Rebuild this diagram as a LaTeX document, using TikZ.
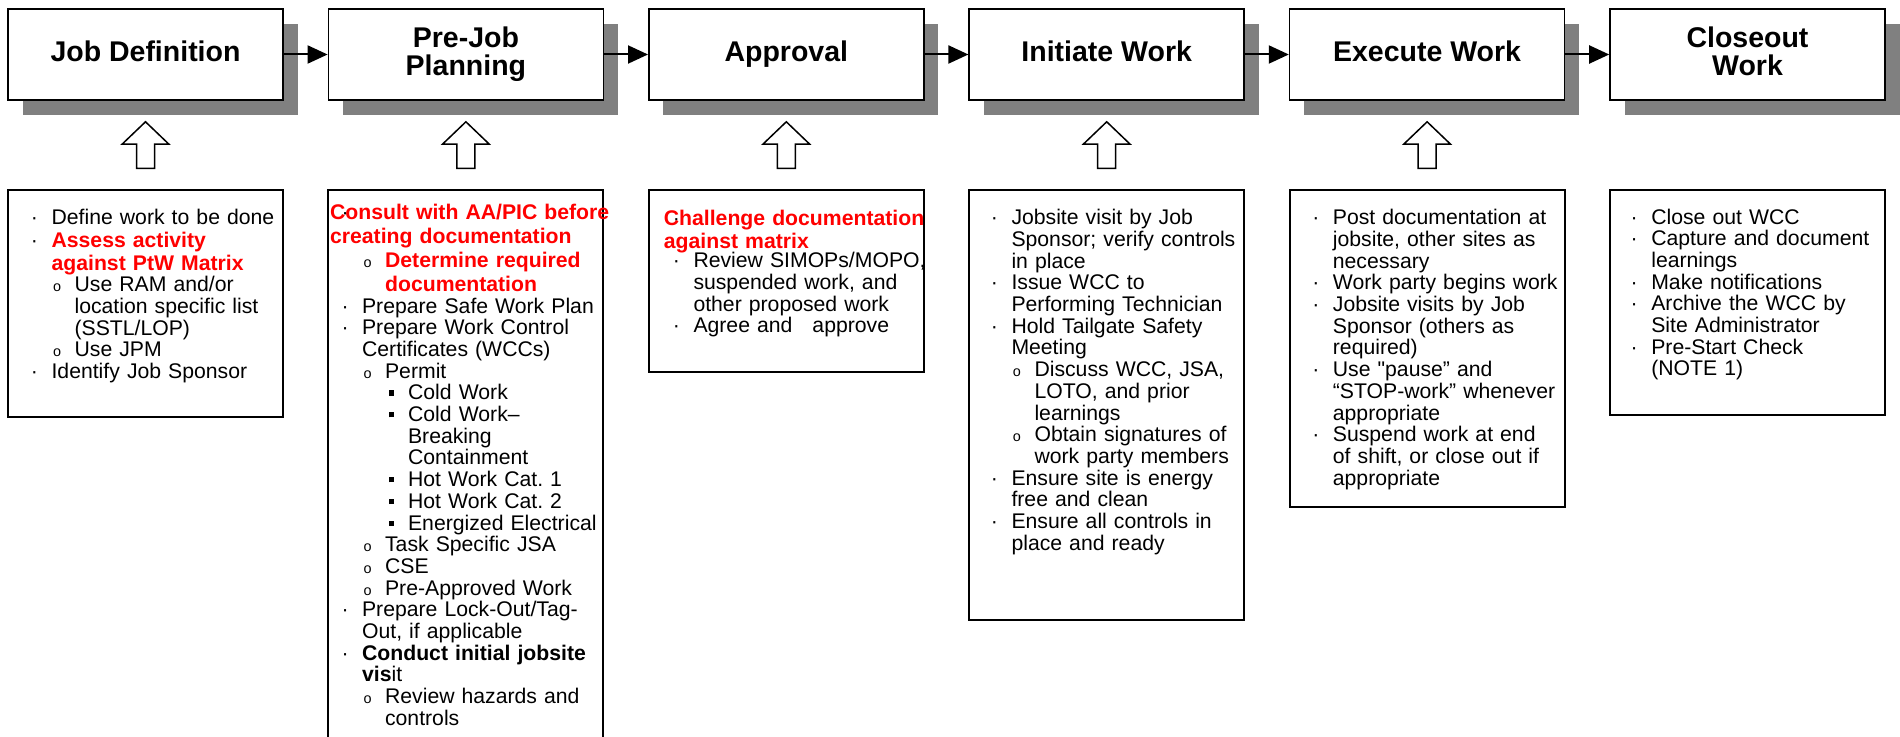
\documentclass[tikz,border=0pt]{standalone}
\usepackage{fontspec}
\setmainfont{Liberation Sans}[Ligatures=TeXOff]
\usepackage{tikz}
\usetikzlibrary{positioning,shadows,arrows.meta,calc}
\frenchspacing

\definecolor{shadowgray}{HTML}{808080}
\definecolor{alertred}{HTML}{FF0000}

% list helpers for the detail boxes
\newlength\lsh
\newcommand{\topstrut}{\rule{0pt}{10pt}}
\newcommand{\redbf}{\color{alertred}\bfseries}
\newcommand{\omark}{{\fontsize{7.2pt}{7.2pt}\selectfont o}}
\newcommand{\sqmark}{\rule[2.1pt]{2.6pt}{2.6pt}}
\newcommand{\lineitem}[4]{\par\hangindent=#2\hangafter=1\noindent\hbox to #2{\hskip#1\relax{\normalfont\color{black}#3}\hfil}#4}
\newcommand{\lone}[1]{\lineitem{\lsh}{\dimexpr\lsh+10.3pt\relax}{·}{#1}}
\newcommand{\ltwo}[1]{\lineitem{\dimexpr\lsh+11pt\relax}{\dimexpr\lsh+21.8pt\relax}{\omark}{#1}}
\newcommand{\lthree}[1]{\lineitem{\dimexpr\lsh+23.8pt\relax}{\dimexpr\lsh+33.3pt\relax}{\sqmark}{#1}}
\newcommand{\lhead}[2]{\par\hangindent=#1\hangafter=1\noindent\rlap{\hskip\lsh{\normalfont\color{black}·}}\hskip#1\relax#2}
\newcommand{\hollowarrow}[1]{\draw[hollow] ($(#1.south)+(0,21)$) -- ++(23.3,22.3) -- ++(-14.3,0) -- ++(0,24.3) -- ++(-18,0) -- ++(0,-24.3) -- ++(-14.3,0) -- cycle;}

\tikzset{
  stage/.style={draw, line width=0.8pt, fill=white, minimum width=137.5pt, minimum height=45.5pt,
    inner sep=2pt, align=center, text depth=3pt, font=\bfseries\fontsize{14.25pt}{14pt}\selectfont,
    drop shadow={shadow xshift=7.25pt, shadow yshift=-7.5pt, fill=shadowgray, opacity=1}},
  detailbox/.style={draw, line width=1pt, minimum width=137.5pt, minimum height=#1, inner sep=0pt, outer sep=0pt},
  detailtext/.style={anchor=north west, inner sep=0pt, text width=160pt, align=left,
    font=\fontsize{10.6pt}{10.85pt}\selectfont},
  flow/.style={-{Triangle[length=10pt,width=9pt]}, line width=1pt},
  hollow/.style={line width=0.75pt, fill=white, line join=miter}
}

\begin{document}
\begin{tikzpicture}[x=0.5pt, y=-0.5pt]
\path[use as bounding box, fill=white] (0,0) rectangle (1900,737);

% process steps
\node[stage] (jobdef) at (145.5,54.5) {Job Definition};
\node[stage, right=21.9pt of jobdef] (prejob) {Pre-Job\\Planning};
\node[stage, right=21.9pt of prejob] (approval) {Approval};
\node[stage, right=21.9pt of approval] (initiate) {Initiate Work};
\node[stage, right=21.9pt of initiate] (execute) {Execute Work};
\node[stage, right=21.9pt of execute] (closeout) {Closeout\\Work};

\draw[flow] (jobdef) -- (prejob);
\draw[flow] (prejob) -- (approval);
\draw[flow] (approval) -- (initiate);
\draw[flow] (initiate) -- (execute);
\draw[flow] (execute) -- (closeout);

% detail boxes
\node[detailbox=113.5pt, below=44.6pt of jobdef] (jobdef-box) {};
\node[detailbox=300pt, below=44.6pt of prejob] (prejob-box) {};
\node[detailbox=91pt, below=44.6pt of approval] (approval-box) {};
\node[detailbox=215pt, below=44.6pt of initiate] (initiate-box) {};
\node[detailbox=158.5pt, below=44.6pt of execute] (execute-box) {};
\node[detailbox=112.5pt, below=44.6pt of closeout] (closeout-box) {};

\hollowarrow{jobdef}
\hollowarrow{prejob}
\hollowarrow{approval}
\hollowarrow{initiate}
\hollowarrow{execute}

\node[detailtext, yshift=-6pt] (jobdef-txt) at (jobdef-box.north west) {\setlength{\lsh}{11.3pt}%
\lone{\topstrut Define work to be done}
\par{\fontsize{10.6pt}{11.5pt}\selectfont\lone{\redbf Assess activity\newline against PtW Matrix}\par}
\ltwo{Use RAM and/or\newline location specific list\newline (SSTL/LOP)}
\ltwo{Use JPM}
\lone{Identify Job Sponsor}\par};

\node[detailtext, yshift=-2.5pt] (prejob-txt) at (prejob-box.north west) {\setlength{\lsh}{6.35pt}%
{\fontsize{10.6pt}{12pt}\selectfont
\lhead{0.65pt}{\topstrut\redbf Consult with AA/PIC before\newline creating documentation}
\ltwo{\redbf Determine required\newline documentation}\par}
\lone{Prepare Safe Work Plan}
\lone{Prepare Work Control\newline Certificates (WCCs)}
\ltwo{Permit}
\lthree{Cold Work}
\lthree{Cold Work–\newline Breaking\newline Containment}
\lthree{Hot Work Cat. 1}
\lthree{Hot Work Cat. 2}
\lthree{Energized Electrical}
\ltwo{Task Specific JSA}
\ltwo{CSE}
\ltwo{Pre-Approved Work}
\lone{Prepare Lock-Out/Tag-\newline Out, if applicable}
\lone{\textbf{Conduct initial jobsite\newline vis}it}
\ltwo{Review hazards and\newline controls}\par};

\node[detailtext, yshift=-6pt] (approval-txt) at (approval-box.north west) {\setlength{\lsh}{11.85pt}%
{\fontsize{10.6pt}{11.5pt}\selectfont
\lhead{7.35pt}{\topstrut\redbf Challenge documentation\newline against matrix}\par}
\vspace{-1.2pt}
\lone{Review SIMOPs/MOPO,\newline suspended work, and\newline other proposed work}
\lone{Agree and\hspace{10pt}approve}\par};

\node[detailtext, yshift=-6.35pt] (initiate-txt) at (initiate-box.north west) {\setlength{\lsh}{10.65pt}%
\lone{\topstrut Jobsite visit by Job\newline Sponsor; verify controls\newline in place}
\lone{Issue WCC to\newline Performing Technician}
\lone{Hold Tailgate Safety\newline Meeting}
\ltwo{Discuss WCC, JSA,\newline LOTO, and prior\newline learnings}
\ltwo{Obtain signatures of\newline work party members}
\lone{Ensure site is energy\newline free and clean}
\lone{Ensure all controls in\newline place and ready}\par};

\node[detailtext, yshift=-6.35pt] (execute-txt) at (execute-box.north west) {\setlength{\lsh}{11.15pt}%
\lone{\topstrut Post documentation at\newline jobsite, other sites as\newline necessary}
\lone{Work party begins work}
\lone{Jobsite visits by Job\newline Sponsor (others as\newline required)}
\lone{Use "pause” and\newline “STOP-work” whenever\newline appropriate}
\lone{Suspend work at end\newline of shift, or close out if\newline appropriate}\par};

\node[detailtext, yshift=-6pt] (closeout-txt) at (closeout-box.north west) {\setlength{\lsh}{10.15pt}%
\lone{\topstrut Close out WCC}
\lone{Capture and document\newline learnings}
\lone{Make notifications}
\lone{Archive the WCC by\newline Site Administrator}
\lone{Pre-Start Check\newline (NOTE 1)}\par};
\end{tikzpicture}
\end{document}
